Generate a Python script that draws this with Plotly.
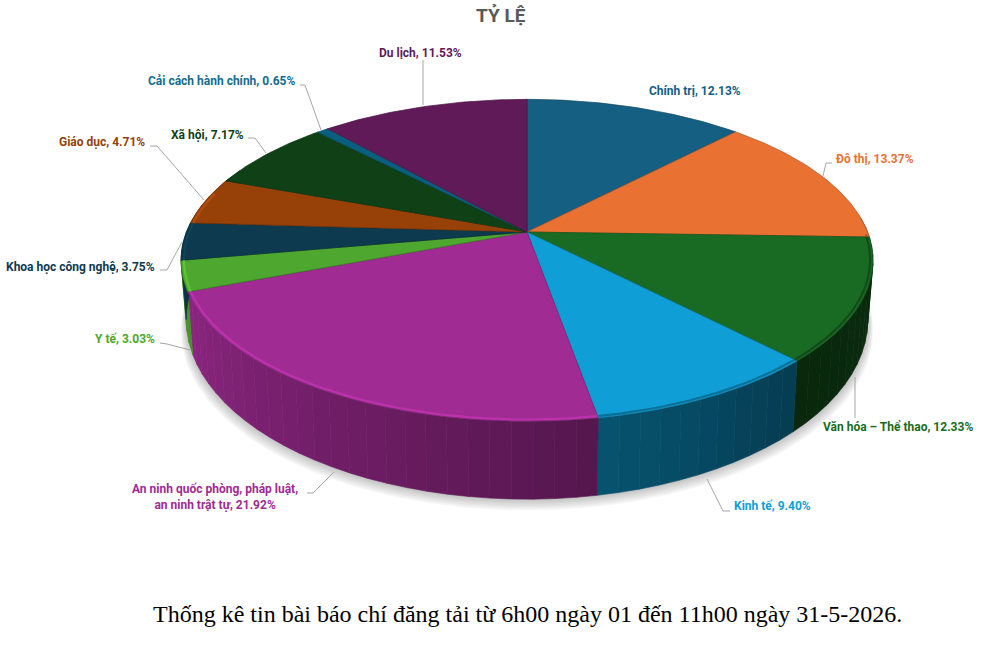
import numpy as np
import plotly.graph_objects as go

labels = ["Chính trị", "Đô thị", "Văn hóa – Thể thao", "Kinh tế",
          "An ninh quốc phòng, pháp luật,<br>an ninh trật tự", "Y tế",
          "Khoa học công nghệ", "Giáo dục", "Xã hội",
          "Cải cách hành chính", "Du lịch"]
values = [12.13, 13.37, 12.33, 9.40, 21.92, 3.03, 3.75, 4.71, 7.17, 0.65, 11.53]
colors = ["#156082", "#E97132", "#196B24", "#0F9ED5", "#A02B93", "#4EA72E",
          "#0D3A4E", "#974109", "#0F4016", "#095F80", "#601A58"]
text_colors = ["#156082", "#E97132", "#196B24", "#0F9ED5", "#A02B93", "#4EA72E",
               "#0D3A4E", "#974109", "#0F4016", "#156C8C", "#601A58"]

# label placement in page pixels: x, y, anchor
label_pos = [(647, 91, "left"), (834, 159, "left"), (821, 427, "left"), (732, 506, "left"),
             (215, 497, "center"), (157, 339, "right"), (157, 267, "right"), (147, 142, "right"),
             (246, 135, "right"), (297, 81, "right"), (464, 53, "right")]
leaders = [None,
           [(832, 163), (826, 163), (823, 176)],
           [(855, 377), (855, 418)],
           [(730, 511), (723, 511), (707, 479)],
           [(307, 493), (313, 493), (334, 472)],
           [(160, 343), (167, 344), (190, 350)],
           [(160, 270), (167, 270), (182, 242)],
           [(150, 146), (157, 146), (204, 200)],
           [(248, 138), (255, 138), (266, 153)],
           [(300, 85), (305, 85), (321, 130)],
           [(423, 60), (423, 105)]]

# perspective disc
CX, CY = 527, 232
A, B, K = 340.6, 156, 0.176
BOT_S, BOT_Y, BOT_B = 0.985, 288, 174


def top_pt(deg, r=1.0):
    t = np.radians(deg)
    u, v = r * np.sin(t), r * np.cos(t)
    w = 1 + K * v
    return CX + A * u / w, CY - B * v / w


def bot_pt(deg):
    t = np.radians(deg)
    u, v = np.sin(t), np.cos(t)
    w = 1 + K * v
    return CX + BOT_S * A * u / w, BOT_Y - BOT_B * v / w


def shade(hex_color, f):
    rgb = [int(hex_color[i:i + 2], 16) for i in (1, 3, 5)]
    return "rgb(%d,%d,%d)" % tuple(min(255, c * f) for c in rgb)


def wall_factor(deg):
    return np.interp(deg, [90, 136, 170, 249, 295], [0.42, 0.38, 0.53, 0.88, 0.92])


edges = np.cumsum([0] + values) / sum(values) * 360
fig = go.Figure()

# soft ground shadow
ring = np.linspace(0, 360, 181)
for grow in [14, 12, 10, 8, 6, 4, 2]:
    xs, ys = bot_pt(ring)
    fig.add_trace(go.Scatter(x=CX + (xs - CX) * (1 + grow / 900), y=ys + grow * 0.8,
                             mode="lines", fill="toself", line=dict(width=0),
                             fillcolor="rgba(90,90,90,0.055)", hoverinfo="skip"))

# side wall
for i, color in enumerate(colors):
    a0, a1 = max(edges[i], 85), min(edges[i + 1], 295)
    if a1 <= a0:
        continue
    cuts = np.linspace(a0, a1, max(2, int((a1 - a0) / 3) + 1))
    for s0, s1 in zip(cuts[:-1], cuts[1:]):
        tx, ty = top_pt(np.array([s0, s1]))
        bx, by = bot_pt(np.array([s1, s0]))
        c = shade(color, wall_factor((s0 + s1) / 2))
        fig.add_trace(go.Scatter(x=list(tx) + list(bx) + [tx[0]], y=list(ty) + list(by) + [ty[0]],
                                 mode="lines", fill="toself", line=dict(width=0.6, color=c),
                                 fillcolor=c, hoverinfo="skip"))

# top faces
for i, color in enumerate(colors):
    arc = np.linspace(edges[i], edges[i + 1], max(3, int(values[i] * 5)))
    ax, ay = top_pt(arc)
    fig.add_trace(go.Scatter(x=[CX] + list(ax) + [CX], y=[CY] + list(ay) + [CY],
                             mode="lines", fill="toself", name=labels[i],
                             line=dict(width=0.7, color=shade(color, 0.75)),
                             fillcolor=color, hoverinfo="name"))

# rim bevel on the front edge of the top
for i, color in enumerate(colors):
    a0, a1 = max(edges[i], 91), min(edges[i + 1], 285)
    if a1 <= a0:
        continue
    arc = np.linspace(a0, a1, 40)
    ax, ay = top_pt(arc, 0.992)
    mid = (a0 + a1) / 2
    rim = shade(color, 1.18) if mid > 175 else shade(color, 0.72)
    fig.add_trace(go.Scatter(x=ax, y=ay, mode="lines", line=dict(width=2.2, color=rim),
                             hoverinfo="skip"))

# leader lines
for pts in leaders:
    if pts is None:
        continue
    fig.add_trace(go.Scatter(x=[p[0] for p in pts], y=[p[1] for p in pts], mode="lines",
                             line=dict(width=1, color="#A6A6A6"), hoverinfo="skip"))

annotations = []
for name, val, col, (x, y, anchor) in zip(labels, values, text_colors, label_pos):
    annotations.append(dict(x=x, y=y, xref="x", yref="y", xanchor=anchor, yanchor="middle",
                            text="<b>%s, %.2f%%</b>" % (name, val).replace("<br>", "</b><br><b>") if False
                            else "<b>" + f"{name}, {val:.2f}%".replace("<br>", "</b><br><b>") + "</b>",
                            showarrow=False, align="center",
                            font=dict(family="Roboto", size=12, color=col)))
annotations.append(dict(x=501, y=15, xref="x", yref="y", showarrow=False, text="<b>TỶ LỆ</b>",
                        font=dict(family="Roboto", size=19, color="#595959")))
annotations.append(dict(x=527, y=614, xref="x", yref="y", showarrow=False,
                        text="Thống kê tin bài báo chí đăng tải từ 6h00 ngày 01 đến 11h00 ngày 31-5-2026.",
                        font=dict(family="Liberation Serif", size=24, color="#000000")))

fig.update_layout(width=983, height=650, margin=dict(l=0, r=0, t=0, b=0),
                  showlegend=False, plot_bgcolor="white", paper_bgcolor="white",
                  annotations=annotations,
                  xaxis=dict(range=[0, 983], visible=False, fixedrange=True),
                  yaxis=dict(range=[650, 0], visible=False, fixedrange=True))

fig.write_html("out.html", config=dict(displayModeBar=False),
               post_script="document.body.style.margin='0';")
